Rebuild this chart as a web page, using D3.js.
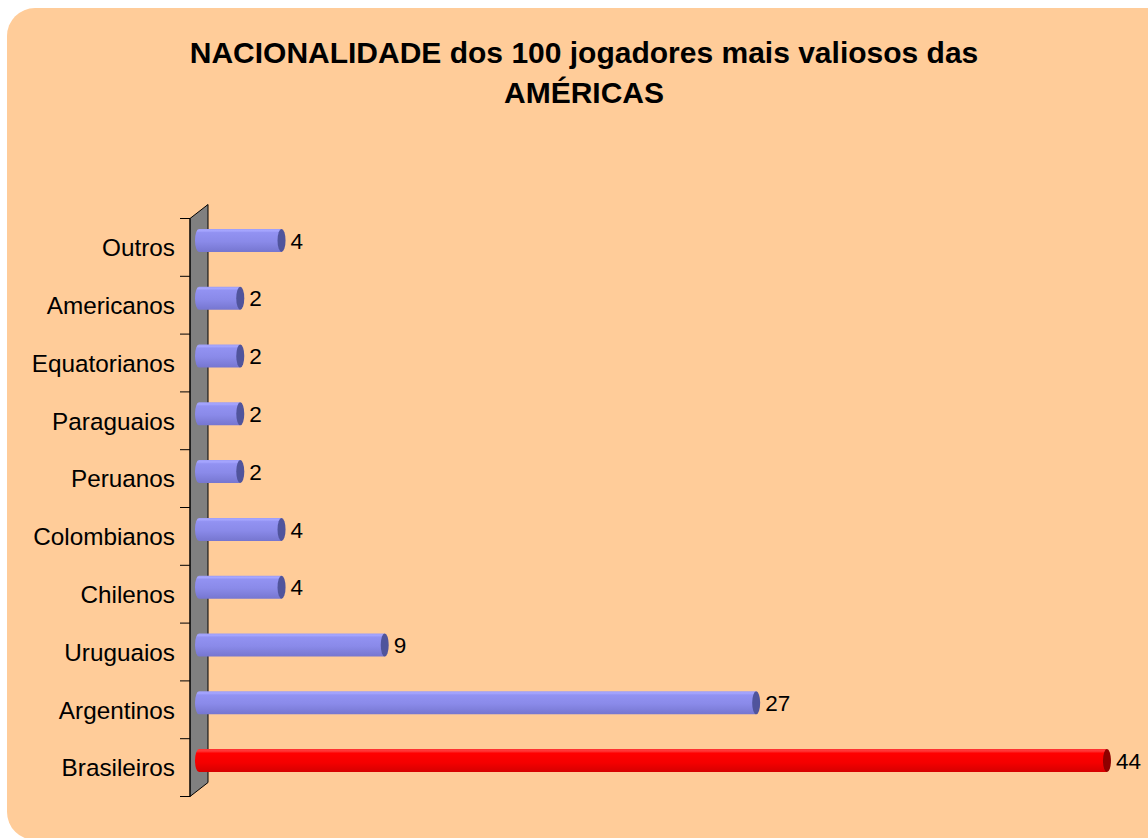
<!DOCTYPE html>
<html>
<head>
<meta charset="utf-8">
<script src="https://cdn.jsdelivr.net/npm/d3@7/dist/d3.min.js"></script>
<style>
html,body{margin:0;padding:0;background:#fff;}
svg{display:block;font-family:"Liberation Sans",Arial,Helvetica,sans-serif;}
</style>
</head>
<body>
<svg id="chart" width="1148" height="838"></svg>
<script>
const categories = ["Outros","Americanos","Equatorianos","Paraguaios","Peruanos","Colombianos","Chilenos","Uruguaios","Argentinos","Brasileiros"];
const values = [4,2,2,2,2,4,4,9,27,44];
const highlighted = ["Brasileiros"];
const titleLines = ["NACIONALIDADE dos 100 jogadores mais valiosos das","AMÉRICAS"];

(function(){
const svg = d3.select("#chart");
const defs = svg.append("defs");

function grad(id, stops){
  const g = defs.append("linearGradient").attr("id", id).attr("x1",0).attr("y1",0).attr("x2",0).attr("y2",1);
  stops.forEach(s => g.append("stop").attr("offset", s[0]).attr("stop-color", s[1]));
}
grad("gBlue", [[0,"#9d9df6"],[0.08,"#a6a6ff"],[0.16,"#9292f2"],[0.55,"#8a8ae9"],[1,"#7676d0"]]);
grad("gRed", [[0,"#ff3030"],[0.08,"#ff3a3a"],[0.18,"#ff0000"],[0.6,"#f40000"],[1,"#d50000"]]);

// background
svg.append("rect").attr("x",7).attr("y",8).attr("width",1180).attr("height",832)
  .attr("rx",28).attr("ry",28).attr("fill","#ffcc99");

// title
svg.append("g").selectAll("text").data(titleLines).join("text")
  .attr("x",584).attr("y",(d,i)=>63+i*40)
  .attr("text-anchor","middle").attr("font-weight","bold").attr("font-size",30)
  .attr("fill","#000").text(d=>d);

// scales
const depthX = 18, depthY = 14;
const y = d3.scaleBand().domain(categories).range([218.5, 796.5]).padding(0);
const x = d3.scaleLinear().domain([0,45]).range([190, 190 + 45*20.636]);

// wall
const yTop = y.range()[0], yBot = y.range()[1], x0 = x(0);
svg.append("path")
  .attr("d", `M${x0},${yTop} L${x0+depthX},${yTop-depthY} L${x0+depthX},${yBot-depthY} L${x0},${yBot} Z`)
  .attr("fill","#808080").attr("stroke","#000").attr("stroke-width",1);

// axis with ticks at category boundaries
const axisG = svg.append("g");
axisG.append("line").attr("x1",x0).attr("x2",x0).attr("y1",yTop).attr("y2",yBot)
  .attr("stroke","#000").attr("stroke-width",1);
const bounds = categories.map(c=>y(c)).concat([yBot]);
axisG.selectAll("line.t").data(bounds).join("line").attr("class","t")
  .attr("x1",x0-10).attr("x2",x0).attr("y1",d=>d).attr("y2",d=>d)
  .attr("stroke","#000").attr("stroke-width",1);
axisG.selectAll("text").data(categories).join("text")
  .attr("x",175).attr("y",d=>y(d)+y.bandwidth()/2).attr("dy","0.36em")
  .attr("text-anchor","end").attr("font-size",24.3).attr("fill","#000").text(d=>d);

// bars (cylinders)
const barH = 23, rx = 4;
const bars = svg.append("g").selectAll("g").data(categories.map((c,i)=>({c, v:values[i]}))).join("g");
bars.each(function(d){
  const g = d3.select(this);
  const isHi = highlighted.includes(d.c);
  const cy = y(d.c) + y.bandwidth()/2 - depthY/2;
  const xs = x(0) + depthX/2, xe = x(d.v) + depthX/2;
  const fill = isHi ? "url(#gRed)" : "url(#gBlue)";
  g.append("path")
    .attr("d", `M${xs},${cy-barH/2} L${xe},${cy-barH/2} L${xe},${cy+barH/2} L${xs},${cy+barH/2} A${rx},${barH/2} 0 0 1 ${xs},${cy-barH/2} Z`)
    .attr("fill", fill);
  g.append("ellipse").attr("cx",xe).attr("cy",cy).attr("rx",rx).attr("ry",barH/2)
    .attr("fill", isHi ? "#8e0000" : "#50549c");
  g.append("text").attr("x", xe + 9).attr("y", cy).attr("dy","0.36em")
    .attr("font-size",22.5).attr("fill","#000").text(d.v);
});
})();
</script>
</body>
</html>
